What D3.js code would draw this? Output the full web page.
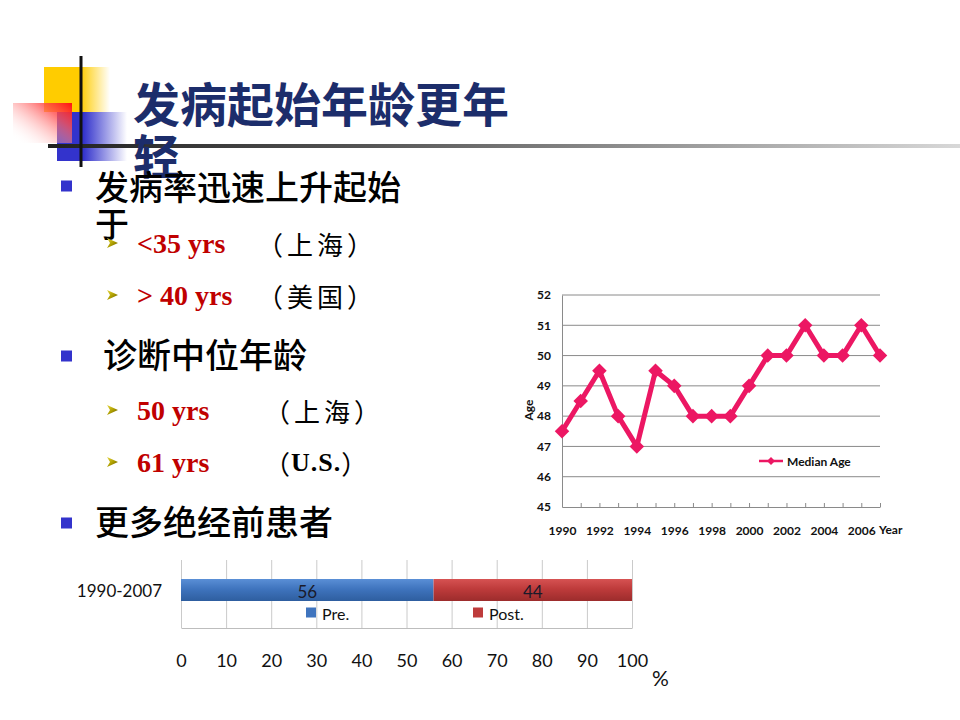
<!DOCTYPE html>
<html><head><meta charset="utf-8">
<script src="https://cdn.jsdelivr.net/npm/d3@7/dist/d3.min.js"></script>
<style>body{margin:0;background:#fff}svg{display:block}</style>
</head><body>
<svg id="c" width="960" height="720"></svg>
<script>
// ---------- data ----------
const titleLines = ["发病起始年龄更年", "轻"];
const mainBullets = [["发病率迅速上升起始", "于"], ["诊断中位年龄"], ["更多绝经前患者"]];
const subValues = ["<35 yrs", "> 40 yrs", "50 yrs", "61 yrs"];
const subPlaces = ["上海", "美国", "上海", "U.S."];

const years = [1990,1991,1992,1993,1994,1995,1996,1997,1998,1999,2000,2001,2002,2003,2004,2005,2006,2007];
const medianAge = [47.5,48.5,49.5,48,47,49.5,49,48,48,48,49,50,50,51,50,50,51,50];
const ageTicks = [45,46,47,48,49,50,51,52];
const lineSeriesName = "Median Age";

const barCategories = ["1990-2007"];
const barSeries = ["Pre.", "Post."];
const preValues = [56];
const postValues = [44];
const pctTicks = [0,10,20,30,40,50,60,70,80,90,100];

// ---------- setup ----------
const svg = d3.select("#c");
const defs = svg.append("defs");
function lin(id, x1, y1, x2, y2, stops) {
  const g = defs.append("linearGradient").attr("id", id)
    .attr("x1", x1).attr("y1", y1).attr("x2", x2).attr("y2", y2);
  stops.forEach(s => g.append("stop").attr("offset", s[0]).attr("stop-color", s[1]).attr("stop-opacity", s[2] == null ? 1 : s[2]));
}
lin("gYellow", "0", "0", "1", "0", [[0, "#FFCC00"], [0.55, "#FFCC00"], [1, "#FFCC00", 0]]);
lin("gBlue", "0", "0", "1", "0", [[0, "#3333CC"], [0.38, "#3333CC"], [1, "#3333CC", 0]]);
lin("gRed", "1", "0", "0", "0.9", [[0, "#FF1010"], [0.3, "#FF5050", 0.8], [1, "#FFFFFF", 0]]);
lin("gHLine", "0", "0", "1", "0", [[0, "#202020"], [0.35, "#555"], [1, "#d8d8d8"]]);
lin("gBarBlue", "0", "0", "0", "1", [[0, "#5a8fd6"], [0.45, "#3f74be"], [1, "#2e5e9f"]]);
lin("gBarRed", "0", "0", "0", "1", [[0, "#d65252"], [0.45, "#be3b3b"], [1, "#9c2c2c"]]);
lin("gArrow", "0", "0", "1", "1", [[0, "#e8d840"], [0.5, "#b0a000"], [1, "#5a5000"]]);

// ---------- decoration ----------
const deco = svg.append("g");
deco.append("rect").attr("x", 44).attr("y", 67).attr("width", 66).attr("height", 45).attr("fill", "url(#gYellow)");
deco.append("rect").attr("x", 57).attr("y", 112).attr("width", 70).attr("height", 49).attr("fill", "url(#gBlue)");
deco.append("rect").attr("x", 13).attr("y", 103).attr("width", 59).attr("height", 40).attr("fill", "url(#gRed)");
deco.append("rect").attr("x", 48).attr("y", 144).attr("width", 912).attr("height", 4).attr("fill", "url(#gHLine)");
deco.append("rect").attr("x", 79.5).attr("y", 56).attr("width", 3).attr("height", 111).attr("fill", "#111");

// ---------- title ----------
const cjk = "'Noto Sans CJK SC', 'Noto Sans', sans-serif";
svg.append("g").selectAll("text").data(titleLines).join("text")
  .attr("x", 133).attr("y", (d, i) => 101 + i * 52)
  .attr("dominant-baseline", "central")
  .style("font-family", cjk).style("font-weight", "bold").style("font-size", "47px")
  .attr("fill", "#1c2d6b").text(d => d);

// ---------- bullets ----------
const txt = svg.append("g");
const mainPos = [{x: 95, y: [185, 222], by: 186}, {x: 103, y: [353], by: 356}, {x: 95, y: [520], by: 523}];
mainBullets.forEach((lines, i) => {
  txt.append("rect").attr("x", 61).attr("y", mainPos[i].by - 5.5).attr("width", 11).attr("height", 11).attr("fill", "#3333CC");
  lines.forEach((l, j) => {
    txt.append("text").attr("x", mainPos[i].x).attr("y", mainPos[i].y[j]).attr("dominant-baseline", "central")
      .style("font-family", cjk).style("font-weight", "500").style("font-size", "34px").attr("fill", "#000").text(l);
  });
});
const subY = [243, 295, 410, 462];
const placeX = [257, 257, 264, 264];
subValues.forEach((v, i) => {
  const y = subY[i];
  txt.append("path").attr("d", `M107,${y-5}L118,${y}L107,${y+5}L110,${y}Z`).attr("fill", "url(#gArrow)");
  txt.append("text").attr("x", 137).attr("y", y).attr("dominant-baseline", "central")
    .style("font-family", "'Liberation Serif', serif").style("font-weight", "bold").style("font-size", "28px")
    .attr("fill", "#C00000").text(v);
  const isLatin = /^[A-Za-z.]+$/.test(subPlaces[i]);
  const t = txt.append("text").attr("x", placeX[i]).attr("y", y).attr("dominant-baseline", "central")
    .style("font-family", cjk).style("font-size", "26px").style("letter-spacing", isLatin ? "1px" : "4px").attr("fill", "#000");
  t.append("tspan").text("（");
  t.append("tspan").style("font-family", isLatin ? "'Liberation Serif', serif" : cjk)
    .style("font-weight", isLatin ? "bold" : "normal").text(subPlaces[i]);
  t.append("tspan").text("）");
});

// ---------- line chart ----------
const lc = svg.append("g");
const xL = d3.scalePoint().domain(years).range([562, 880]);
const yL = d3.scaleLinear().domain([45, 52]).range([507, 295]);
lc.selectAll("line.grid").data(ageTicks.slice(1)).join("line").attr("class", "grid")
  .attr("x1", 562).attr("x2", 880).attr("y1", d => yL(d)).attr("y2", d => yL(d))
  .attr("stroke", "#8a8a8a").attr("stroke-width", 1);
const yAx = lc.append("g").attr("transform", "translate(562,0)")
  .call(d3.axisLeft(yL).tickValues(ageTicks).tickFormat(d3.format("d")).tickSize(0).tickPadding(11));
yAx.select(".domain").attr("stroke", "#8a8a8a");
yAx.selectAll("text").style("font-family", "Lato, sans-serif").style("font-weight", "bold").style("font-size", "12px").attr("fill", "#111");
const xAx = lc.append("g").attr("transform", "translate(0,507)")
  .call(d3.axisBottom(xL).tickValues(years).tickSize(-4).tickSizeOuter(0).tickFormat(d => d % 2 === 0 ? d : ""));
xAx.select(".domain").attr("stroke", "#8a8a8a");
xAx.selectAll(".tick line").attr("stroke", "#8a8a8a");
xAx.selectAll("text").attr("y", 24).attr("dy", "0.35em")
  .style("font-family", "Lato, sans-serif").style("font-weight", "bold").style("font-size", "12px").attr("fill", "#111");
const lineColor = "#EC1763";
const pts = years.map((y, i) => ({year: y, age: medianAge[i]}));
lc.append("path").datum(pts)
  .attr("d", d3.line().x(d => xL(d.year)).y(d => yL(d.age)))
  .attr("fill", "none").attr("stroke", lineColor).attr("stroke-width", 5).attr("stroke-linejoin", "round");
lc.selectAll("path.mk").data(pts).join("path").attr("class", "mk")
  .attr("transform", d => `translate(${xL(d.year)},${yL(d.age)})`)
  .attr("d", d3.symbol(d3.symbolDiamond2, 135)).attr("fill", lineColor);
lc.append("text").attr("transform", "translate(528,410) rotate(-90)").attr("text-anchor", "middle").attr("dominant-baseline", "central")
  .style("font-family", "Lato, sans-serif").style("font-weight", "bold").style("font-size", "12px").attr("fill", "#111").text("Age");
lc.append("text").attr("x", 879).attr("y", 529).attr("dominant-baseline", "central")
  .style("font-family", "Lato, sans-serif").style("font-weight", "bold").style("font-size", "12px").attr("fill", "#111").text("Year");
lc.append("line").attr("x1", 759).attr("x2", 783).attr("y1", 461).attr("y2", 461).attr("stroke", lineColor).attr("stroke-width", 2.5);
lc.append("path").attr("transform", "translate(771,461)").attr("d", d3.symbol(d3.symbolDiamond2, 40)).attr("fill", lineColor);
lc.append("text").attr("x", 787).attr("y", 461).attr("dominant-baseline", "central")
  .style("font-family", "Lato, sans-serif").style("font-weight", "bold").style("font-size", "12px").attr("fill", "#111").text(lineSeriesName);

// ---------- bar chart ----------
const bc = svg.append("g");
const table = barCategories.map((c, i) => ({cat: c, [barSeries[0]]: preValues[i], [barSeries[1]]: postValues[i]}));
const stacked = d3.stack().keys(barSeries)(table);
const xB = d3.scaleLinear().domain([0, 100]).range([181, 632]);
const yB = d3.scaleBand().domain(barCategories).range([557, 623]).paddingInner(0.5).paddingOuter(0.5);
const xBAx = bc.append("g").attr("transform", "translate(0,628)")
  .call(d3.axisBottom(xB).tickValues(pctTicks).tickSize(-68).tickSizeOuter(0));
xBAx.select(".domain").attr("stroke", "#bdbdbd");
xBAx.selectAll(".tick line").attr("stroke", "#cacaca");
xBAx.selectAll("text").attr("y", 33).attr("dy", "0.35em")
  .style("font-family", "Lato, sans-serif").style("font-size", "18px").attr("fill", "#111");
const fills = ["url(#gBarBlue)", "url(#gBarRed)"];
const legendFills = ["#3f74be", "#be3b3b"];
stacked.forEach((s, k) => {
  bc.selectAll(null).data(s).join("rect")
    .attr("x", d => xB(d[0])).attr("width", d => xB(d[1]) - xB(d[0]))
    .attr("y", d => yB(d.data.cat)).attr("height", yB.bandwidth()).attr("fill", fills[k]);
  bc.selectAll(null).data(s).join("text")
    .attr("x", d => (xB(d[0]) + xB(d[1])) / 2).attr("y", d => yB(d.data.cat) + yB.bandwidth() / 2 + 1)
    .attr("text-anchor", "middle").attr("dominant-baseline", "central")
    .style("font-family", "Lato, sans-serif").style("font-size", "17px").attr("fill", "#1a1a2a")
    .text(d => d[1] - d[0]);
});
bc.selectAll("text.cat").data(barCategories).join("text").attr("class", "cat")
  .attr("x", 162).attr("y", d => yB(d) + yB.bandwidth() / 2).attr("text-anchor", "end").attr("dominant-baseline", "central")
  .style("font-family", "Lato, sans-serif").style("font-size", "17px").attr("fill", "#111").text(d => d);
const legX = [306, 473];
barSeries.forEach((s, k) => {
  bc.append("rect").attr("x", legX[k]).attr("y", 607.5).attr("width", 10).attr("height", 10).attr("fill", legendFills[k]);
  bc.append("text").attr("x", legX[k] + 16).attr("y", 613).attr("dominant-baseline", "central")
    .style("font-family", "Lato, sans-serif").style("font-size", "16px").attr("fill", "#111").text(s);
});
bc.append("text").attr("x", 652).attr("y", 677).attr("dominant-baseline", "central")
  .style("font-family", "Lato, sans-serif").style("font-size", "21px").attr("fill", "#111").text("%");
</script>
</body></html>
